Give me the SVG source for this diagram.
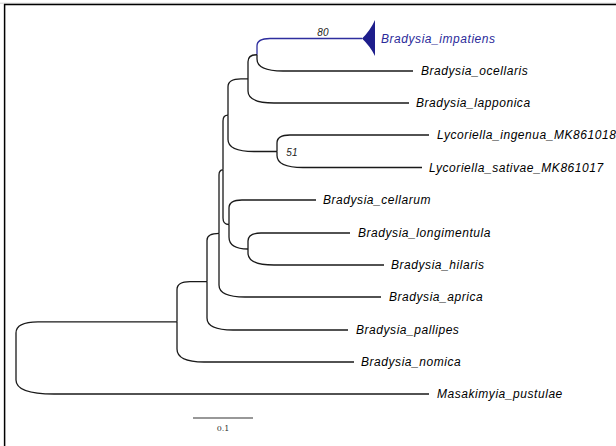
<svg xmlns="http://www.w3.org/2000/svg" width="616" height="446" viewBox="0 0 616 446">
<style>
.e{fill:none;stroke:#1a1a1a;stroke-width:1.3;stroke-linecap:butt}
.b{stroke:#2e2e9e}
.t{font-family:"Liberation Sans",Arial,sans-serif;font-style:italic;font-size:12px;letter-spacing:0.55px;fill:#000}
.s{font-family:"Liberation Sans",Arial,sans-serif;font-style:italic;font-size:10px;letter-spacing:0.3px;fill:#222}
</style>
<rect x="0" y="0" width="616" height="446" fill="#fff"/>
<g id="frame">
<line x1="0" y1="3.2" x2="616" y2="3.2" stroke="#d4d4d4" stroke-width="1"/>
<line x1="4" y1="4.6" x2="616" y2="4.6" stroke="#000" stroke-width="1.5"/>
<line x1="4.6" y1="4" x2="4.6" y2="446" stroke="#000" stroke-width="1.5"/>
</g>
<g id="connectors">
<path class="e b" d="M257,54.75 V46 Q257,38.5 270,38.5 H362"/>
<path class="e" d="M257,54.75 V59 Q257,71 283,71 H413"/>
<path class="e" d="M248,78.9 V61.75 Q248,54.75 257,54.75"/>
<path class="e" d="M248,78.9 V91 Q248,103 274,103 H409"/>
<path class="e" d="M277,151.5 V143 Q277,135 290,135 H429"/>
<path class="e" d="M277,151.5 V155.5 Q277,167.5 303,167.5 H422"/>
<path class="e" d="M228,115.2 V86.9 Q228,78.9 241,78.9 H248"/>
<path class="e" d="M228,115.2 V139.5 Q228,151.5 254,151.5 H277"/>
<path class="e" d="M248,249 V241 Q248,233 261,233 H350"/>
<path class="e" d="M248,249 V253 Q248,265 274,265 H384"/>
<path class="e" d="M229,224.5 V208 Q229,200 242,200 H316"/>
<path class="e" d="M229,224.5 V237 Q229,249 248,249"/>
<path class="e" d="M223,169.85 V121 Q223,115.2 228,115.2"/>
<path class="e" d="M223,169.85 V218 Q223,224.5 229,224.5"/>
<path class="e" d="M219,233.4 V175 Q219,169.85 223,169.85"/>
<path class="e" d="M219,233.4 V285 Q219,297 245,297 H381"/>
<path class="e" d="M207,281.7 V240.4 Q207,233.4 219,233.4"/>
<path class="e" d="M207,281.7 V318 Q207,330 233,330 H348"/>
<path class="e" d="M177,321.85 V289.7 Q177,281.7 190,281.7 H207"/>
<path class="e" d="M177,321.85 V349 Q177,362 204,362 H354"/>
<path class="e" d="M16,358 V333 Q16,321.85 38,321.85 H177"/>
<path class="e" d="M16,358 V380 Q16,394 54,394 H429"/>
</g>
<g id="support">
<text class="s" x="323" y="36" text-anchor="middle">80</text>
<text class="s" x="292" y="155.5" text-anchor="middle">51</text>
</g>
<g id="Bradysia_impatiens">
<path d="M362,38.5 Q370,31 375,20 V56 Q370,46 362,38.5 Z" fill="#1e1e8c"/>
<text class="t" x="381" y="42.5" style="fill:#2b2b9a">Bradysia_impatiens</text>
</g>
<g id="Bradysia_ocellaris"><text class="t" x="421" y="75">Bradysia_ocellaris</text></g>
<g id="Bradysia_lapponica"><text class="t" x="416" y="107">Bradysia_lapponica</text></g>
<g id="Lycoriella_ingenua"><text class="t" x="437" y="139">Lycoriella_ingenua_MK861018</text></g>
<g id="Lycoriella_sativae"><text class="t" x="429" y="171.5">Lycoriella_sativae_MK861017</text></g>
<g id="Bradysia_cellarum"><text class="t" x="323" y="204">Bradysia_cellarum</text></g>
<g id="Bradysia_longimentula"><text class="t" x="358" y="237">Bradysia_longimentula</text></g>
<g id="Bradysia_hilaris"><text class="t" x="391" y="269">Bradysia_hilaris</text></g>
<g id="Bradysia_aprica"><text class="t" x="389" y="301">Bradysia_aprica</text></g>
<g id="Bradysia_pallipes"><text class="t" x="356" y="334">Bradysia_pallipes</text></g>
<g id="Bradysia_nomica"><text class="t" x="361" y="366">Bradysia_nomica</text></g>
<g id="Masakimyia_pustulae"><text class="t" x="437" y="398">Masakimyia_pustulae</text></g>
<g id="scale">
<line x1="193" y1="418" x2="253" y2="418" stroke="#333" stroke-width="1.2"/>
<text x="223" y="431" text-anchor="middle" font-family="DejaVu Serif, serif" font-size="8" fill="#333">0.1</text>
</g>
</svg>
